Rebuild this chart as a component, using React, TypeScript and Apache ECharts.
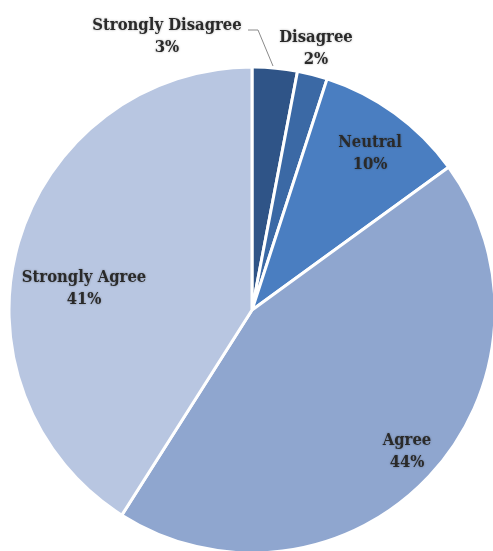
import React, { useEffect, useRef } from "react";
import * as echarts from "echarts";

const categories = ["Strongly Disagree", "Disagree", "Neutral", "Agree", "Strongly Agree"];
const values = [3, 2, 10, 44, 41];
const colors = ["#2f5487", "#3b69a5", "#4a7ec1", "#8fa6cf", "#b8c6e1"];
// label block centres (px)
const labelPos: [number, number][] = [
  [167, 35],
  [316, 47],
  [370, 152],
  [407, 450],
  [84, 287],
];

export default function App() {
  const ref = useRef<HTMLDivElement>(null);
  useEffect(() => {
    document.body.style.margin = "0";
    const chart = echarts.init(ref.current!, undefined, { renderer: "svg" });
    chart.setOption({
      animation: false,
      backgroundColor: "#ffffff",
      series: [
        {
          type: "pie",
          center: [252, 310],
          radius: [0, 243],
          startAngle: 90,
          clockwise: true,
          avoidLabelOverlap: false,
          itemStyle: { borderColor: "#ffffff", borderWidth: 3 },
          label: {
            show: true,
            position: "inside",
            formatter: "{b}\n{d}%",
            fontFamily: "'DejaVu Serif Condensed', 'DejaVu Serif', serif",
            fontWeight: "bold",
            fontSize: 16.5,
            lineHeight: 22,
            color: "#2a2a2a",
            textShadowColor: "rgba(0,0,0,0.3)",
            textShadowBlur: 2,
            align: "center",
          },
          labelLine: { show: false },
          labelLayout: (p: any) => {
            const name = String(p.text || "").split("\n")[0];
            let i = categories.indexOf(name);
            if (i < 0) i = p.dataIndex;
            const r: any = {
              x: labelPos[i][0],
              y: labelPos[i][1],
              align: "center",
              verticalAlign: "middle",
            };
            if (i === 0) {
              r.labelLinePoints = [
                [273, 66],
                [258, 30],
                [248, 30],
              ];
            }
            return r;
          },
          data: categories.map((c, i) => ({
            name: c,
            value: values[i],
            itemStyle: { color: colors[i] },
            label: i === 0 ? { position: "outside" } : undefined,
            labelLine:
              i === 0
                ? { show: true, lineStyle: { color: "#8a8a8a", width: 1 } }
                : undefined,
          })),
        },
      ],
    });
    return () => chart.dispose();
  }, []);
  return <div ref={ref} style={{ width: 493, height: 551 }} />;
}
